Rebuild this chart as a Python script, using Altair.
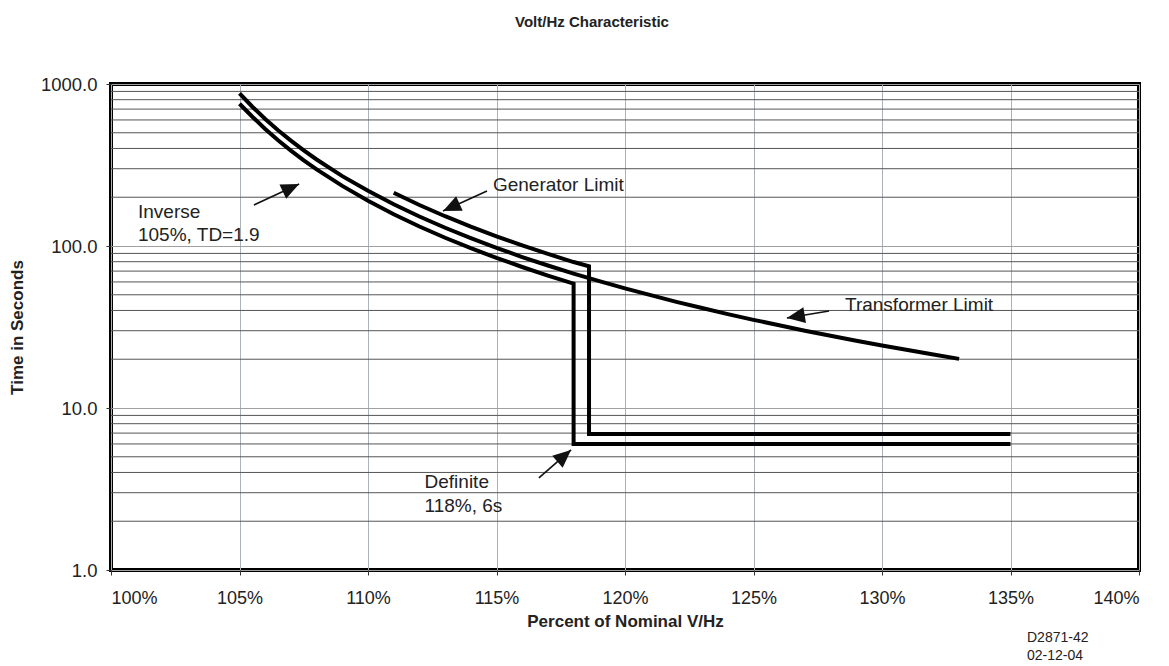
import altair as alt
import pandas as pd
import numpy as np

# ---- data ----
# Inverse curve (105%, TD=1.9) with definite-time step (118%, 6 s)
inv_x = [105, 105.5, 106, 106.5, 107, 107.5, 108, 109, 110, 111, 112, 113, 114, 115,
         116, 117, 118, 118, 135]
inv_y = [755, 628, 528, 450, 388, 338, 297, 235, 190, 157, 132, 112.4, 96.9, 84.4,
         74.2, 65.7, 58.6, 6, 6]

# Generator limit
gen_x = [111, 112, 113, 114, 115, 116, 117, 118, 118.6, 118.6, 135]
gen_y = [213, 179, 152.7, 131.6, 114.7, 100.8, 89.3, 79.6, 74.9, 6.9, 6.9]

# Transformer limit
tr_x = [105, 105.5, 106, 106.5, 107, 107.5, 108, 109, 110, 111, 112, 113, 114, 115,
        116, 117, 118, 119, 120, 121, 122, 123, 124, 125, 126, 127, 128, 129, 130,
        131, 132, 133]
tr_y = [876, 724, 608, 518, 447, 389, 342, 270, 219, 181, 152, 129.6, 111.9, 97.3,
        85.5, 75.8, 67.6, 60.7, 54.8, 49.7, 45.2, 41.4, 38.0, 35.0, 32.4, 30.0, 27.9,
        26.0, 24.3, 22.8, 21.4, 20.1]

x_ticks = [100, 105, 110, 115, 120, 125, 130, 135, 140]
y_ticks = [1, 10, 100, 1000]
minor_y = [2, 3, 4, 5, 6, 7, 8, 9, 20, 30, 40, 50, 60, 70, 80, 90,
           200, 300, 400, 500, 600, 700, 800, 900]

# annotation labels (text, x %, y s)
ann_text = ["Inverse", "105%, TD=1.9", "Generator Limit", "Transformer Limit", "Definite", "118%, 6s"]
ann_x = [101.05, 101.05, 114.86, 128.56, 112.2, 112.2]
ann_y = [162, 117, 238, 43.2, 3.49, 2.48]

# arrows (tail -> tip)
arr_x1 = [105.56, 114.63, 127.94, 116.65]
arr_y1 = [179, 218.6, 39.7, 3.70]
arr_x2 = [107.32, 112.92, 126.30, 117.90]
arr_y2 = [241.5, 164.4, 35.9, 5.51]

foot_lines = ["D2871-42", "02-12-04"]

# ---- chart ----
W, H = 1028, 486
FONT = "Liberation Sans"

rows = []
for name, xs, ys in [("Inverse", inv_x, inv_y), ("Generator", gen_x, gen_y), ("Transformer", tr_x, tr_y)]:
    for i, (a, b) in enumerate(zip(xs, ys)):
        rows.append({"series": name, "x": a, "y": b, "ord": i})
curves = pd.DataFrame(rows)

px_per_x = W / 40.0
px_per_dec = H / 3.0
arrows = pd.DataFrame({"x1": arr_x1, "y1": arr_y1, "x2": arr_x2, "y2": arr_y2})
dx = (arrows["x2"] - arrows["x1"]) * px_per_x
dy = -(np.log10(arrows["y2"]) - np.log10(arrows["y1"])) * px_per_dec
arrows["ang"] = (np.degrees(np.arctan2(dx, -dy)) + 360) % 360

ann = pd.DataFrame({"t": ann_text, "x": ann_x, "y": ann_y})
minor = pd.DataFrame({"y": minor_y})
foot = pd.DataFrame({"t": ["\n".join(foot_lines)]})

xscale = alt.Scale(domain=[100, 140], nice=False, zero=False)
yscale = alt.Scale(type="log", domain=[1, 1000], nice=False)

xaxis = alt.Axis(values=x_ticks, labelExpr="datum.value + '%'", grid=True,
                 gridColor="#a9b3bb", gridWidth=1, tickSize=5, tickColor="#333",
                 domain=False, labelFontSize=18, labelPadding=14, labelColor="#222",
                 title="Percent of Nominal V/Hz", titleFontSize=17, titleFontWeight="bold",
                 titlePadding=6, titleColor="#222")
yaxis = alt.Axis(values=y_ticks, format=".1f", grid=True, gridColor="#a0a0a0",
                 tickSize=5, tickColor="#333", domain=False, labelFontSize=18.5,
                 labelPadding=9, labelColor="#222",
                 title="Time in Seconds", titleFontSize=17, titleFontWeight="bold",
                 titlePadding=14, titleColor="#222")

def X(f):
    return alt.X(f, type="quantitative", scale=xscale, axis=xaxis)

def Y(f):
    return alt.Y(f, type="quantitative", scale=yscale, axis=yaxis)

grid = alt.Chart(minor).mark_rule(color="#555555", strokeWidth=1).encode(y=Y("y"))

lines = alt.Chart(curves).mark_line(color="black", strokeWidth=4, strokeJoin="miter",
                                    strokeCap="butt").encode(
    x=X("x"), y=Y("y"), detail="series:N", order="ord:Q")

arrow_lines = alt.Chart(arrows).mark_rule(color="#111", strokeWidth=1.6).encode(
    x=X("x1"), y=Y("y1"), x2="x2:Q", y2="y2:Q")

heads = alt.Chart(arrows).mark_point(shape="M0,0 L0.44,1 L-0.44,1 Z", size=1296,
                                     filled=True, color="#111", opacity=1,
                                     strokeWidth=0).encode(
    x=X("x2"), y=Y("y2"), angle=alt.Angle("ang:Q", scale=None))

labels = alt.Chart(ann).mark_text(align="left", baseline="middle", fontSize=19,
                                  font=FONT, color="#222").encode(
    x=X("x"), y=Y("y"), text="t:N")

footnote = alt.Chart(foot).mark_text(align="left", baseline="middle", fontSize=14,
                                     font=FONT, color="#222", lineBreak="\n",
                                     lineHeight=18).encode(
    x=alt.value(916), y=alt.value(554), text="t:N")

chart = alt.layer(grid, lines, arrow_lines, heads, labels, footnote).properties(
    width=W, height=H,
    title=alt.TitleParams("Volt/Hz Characteristic", fontSize=15, fontWeight="bold",
                          font=FONT, anchor="middle", dx=-33, offset=45, color="#222"),
    autosize=alt.AutoSizeParams(type="none"),
    padding={"left": 103, "top": 76, "right": 22, "bottom": 96},
).configure(font=FONT).configure_view(stroke="black", strokeWidth=4).configure_axis(
    labelFont=FONT, titleFont=FONT)

chart.save("out.html", embed_options={"renderer": "svg", "actions": False})
